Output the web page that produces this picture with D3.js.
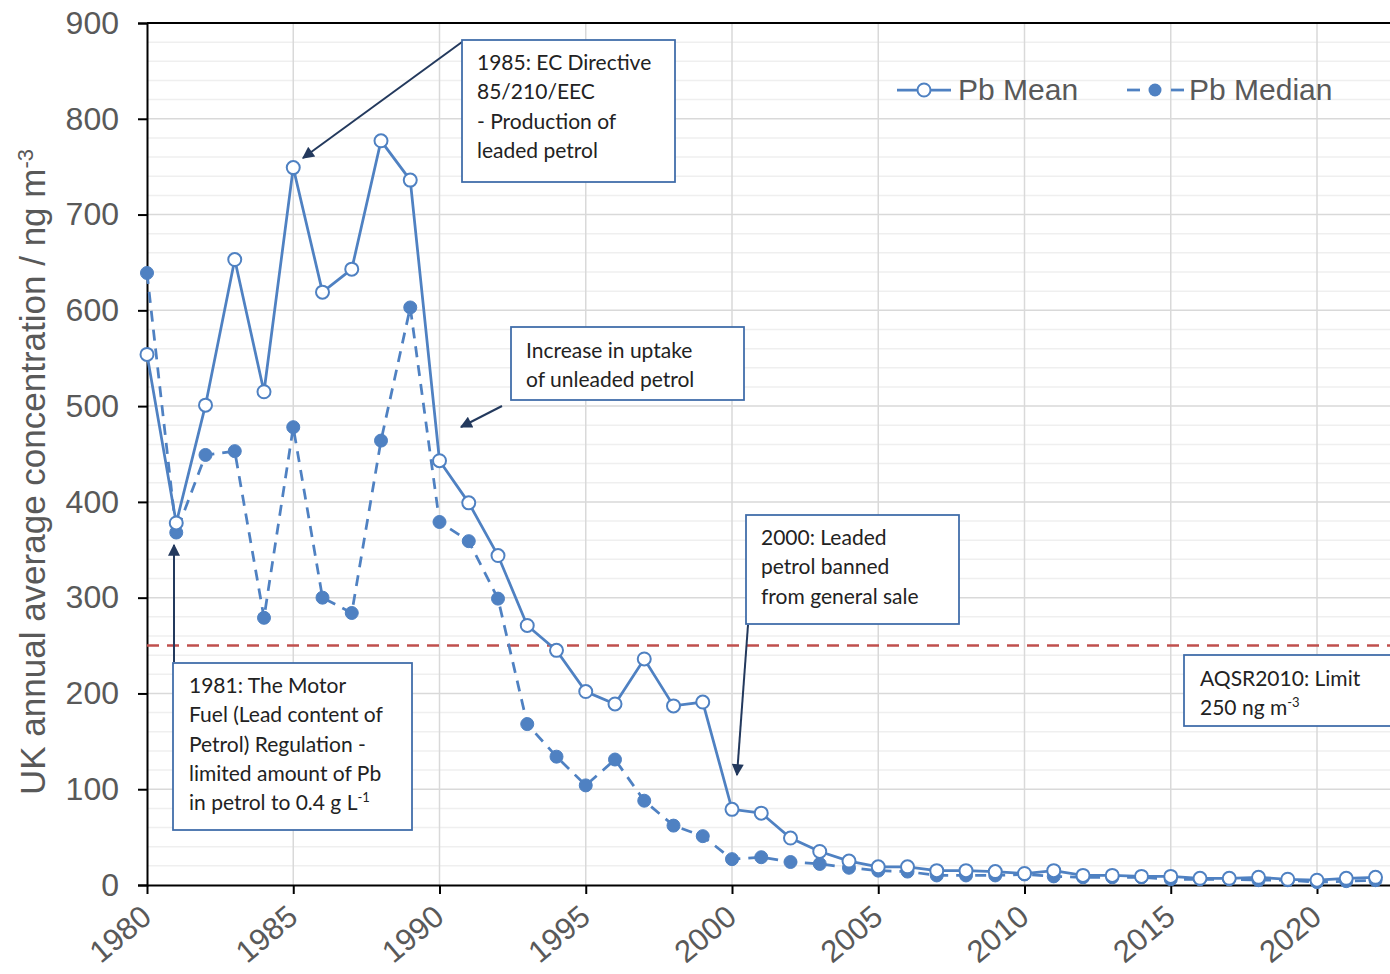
<!DOCTYPE html>
<html>
<head>
<meta charset="utf-8">
<script src="https://cdn.jsdelivr.net/npm/d3@7"></script>
<style>
  body { margin: 0; background: #fff; }
  svg { display: block; }
</style>
</head>
<body>
<div id="chart"></div>
<script>
// --- data ---
const years = d3.range(1980, 2023);
const pbMean = [554, 378, 501, 653, 515, 749, 619, 643, 777, 736,
                443, 399, 344, 271, 245, 202, 189, 236, 187, 191,
                79, 75, 49, 35, 25, 19, 19, 15, 15, 14,
                12, 15, 10, 10, 9, 9, 7, 7, 8, 6,
                5, 7, 8];
const pbMedian = [639, 368, 449, 453, 279, 478, 300, 284, 464, 603,
                  379, 359, 299, 168, 134, 104, 131, 88, 62, 51,
                  27, 29, 24, 22, 18, 15, 14, 10, 10, 10,
                  11, 9, 8, 8, 8, 6, 6, 6, 5, 5,
                  3, 4, 5];
const yTicks = [0, 100, 200, 300, 400, 500, 600, 700, 800, 900];
const xTicks = [1980, 1985, 1990, 1995, 2000, 2005, 2010, 2015, 2020];
const limitValue = 250;

const W = 1390, H = 974;
const blue = "#4f81c2";
const arrowCol = "#23395d";
const boxCol = "#3d6aa8";

const svg = d3.select("#chart").append("svg")
    .attr("width", W).attr("height", H);

const x = d3.scaleLinear().domain([1980, 2023]).range([147, 147 + 29.25 * 43]);
const y = d3.scaleLinear().domain([0, 900]).range([885, 23]);

// gridlines
const grid = svg.append("g");
grid.selectAll("line.minor")
    .data(d3.range(20, 900, 20).filter(v => v % 100 !== 0))
    .enter().append("line")
    .attr("x1", x(1980)).attr("x2", W)
    .attr("y1", d => y(d)).attr("y2", d => y(d))
    .attr("stroke", "#efefef").attr("stroke-width", 1.5);
grid.selectAll("line.major")
    .data(yTicks.filter(v => v > 0 && v < 900))
    .enter().append("line")
    .attr("x1", x(1980)).attr("x2", W)
    .attr("y1", d => y(d)).attr("y2", d => y(d))
    .attr("stroke", "#d9d9d9").attr("stroke-width", 1.5);
grid.selectAll("line.vert")
    .data(xTicks.filter(v => v > 1980))
    .enter().append("line")
    .attr("x1", d => x(d)).attr("x2", d => x(d))
    .attr("y1", y(900)).attr("y2", y(0))
    .attr("stroke", "#d9d9d9").attr("stroke-width", 1.5);

// top border
svg.append("line")
    .attr("x1", x(1980)).attr("x2", W)
    .attr("y1", y(900)).attr("y2", y(900))
    .attr("stroke", "#000").attr("stroke-width", 2);

// axes
const yAxis = svg.append("g")
    .attr("transform", `translate(${x(1980)},0)`)
    .call(d3.axisLeft(y).tickValues(yTicks).tickSize(9).tickPadding(19));
yAxis.select(".domain").attr("stroke", "#000").attr("stroke-width", 2);
yAxis.selectAll(".tick line").attr("stroke", "#000").attr("stroke-width", 2);
yAxis.selectAll(".tick text")
    .attr("font-family", "Liberation Sans, Arial, sans-serif")
    .attr("font-size", 32).attr("fill", "#595959");

const xAxis = svg.append("g")
    .attr("transform", `translate(0,${y(0)})`)
    .call(d3.axisBottom(x).tickValues(xTicks).tickFormat(d3.format("d")).tickSize(9).tickSizeOuter(0));
xAxis.select(".domain").attr("stroke", "#000").attr("stroke-width", 2);
xAxis.selectAll(".tick line").attr("stroke", "#000").attr("stroke-width", 2);
xAxis.selectAll(".tick text")
    .attr("font-family", "Liberation Sans, Arial, sans-serif")
    .attr("font-size", 31).attr("fill", "#595959")
    .attr("text-anchor", "end")
    .attr("dy", null).attr("y", 0)
    .attr("transform", "translate(6,35) rotate(-40)");

// axis title
svg.append("text")
    .attr("transform", `translate(45,${(y(0) + y(900)) / 2 + 18}) rotate(-90)`)
    .attr("text-anchor", "middle")
    .attr("font-family", "Liberation Sans, Arial, sans-serif")
    .attr("font-size", 35).attr("fill", "#595959")
    .text("UK annual average concentration / ng m")
    .append("tspan").attr("baseline-shift", "super").attr("font-size", 22).text("-3");

// limit line
svg.append("line")
    .attr("x1", x(1980)).attr("x2", W)
    .attr("y1", y(limitValue)).attr("y2", y(limitValue))
    .attr("stroke", "#c0504d").attr("stroke-width", 2.5)
    .attr("stroke-dasharray", "12,8");

// series
const meanData = years.map((yr, i) => ({ yr, v: pbMean[i] }));
const medData = years.map((yr, i) => ({ yr, v: pbMedian[i] }));
const line = d3.line().x(d => x(d.yr)).y(d => y(d.v));

svg.append("path").datum(medData)
    .attr("d", line).attr("fill", "none")
    .attr("stroke", blue).attr("stroke-width", 2.75)
    .attr("stroke-dasharray", "11,8");
svg.append("path").datum(meanData)
    .attr("d", line).attr("fill", "none")
    .attr("stroke", blue).attr("stroke-width", 2.75);

svg.append("g").selectAll("circle")
    .data(medData).enter().append("circle")
    .attr("cx", d => x(d.yr)).attr("cy", d => y(d.v))
    .attr("r", 6.5).attr("fill", blue).attr("stroke", blue).attr("stroke-width", 1);
svg.append("g").selectAll("circle")
    .data(meanData).enter().append("circle")
    .attr("cx", d => x(d.yr)).attr("cy", d => y(d.v))
    .attr("r", 6.5).attr("fill", "#fff").attr("stroke", blue).attr("stroke-width", 2);

// legend
const leg = svg.append("g").attr("font-family", "Liberation Sans, Arial, sans-serif")
    .attr("font-size", 30).attr("fill", "#595959");
leg.append("line").attr("x1", 897).attr("x2", 951).attr("y1", 90).attr("y2", 90)
    .attr("stroke", blue).attr("stroke-width", 2.75);
leg.append("circle").attr("cx", 924).attr("cy", 90).attr("r", 6.5)
    .attr("fill", "#fff").attr("stroke", blue).attr("stroke-width", 2);
leg.append("text").attr("x", 958).attr("y", 100).text("Pb Mean");
[[1127, 1140], [1171, 1184]].forEach(s => {
    leg.append("line").attr("x1", s[0]).attr("x2", s[1]).attr("y1", 90).attr("y2", 90)
        .attr("stroke", blue).attr("stroke-width", 2.75);
});
leg.append("circle").attr("cx", 1155).attr("cy", 90).attr("r", 6.5).attr("fill", blue);
leg.append("text").attr("x", 1189).attr("y", 100).text("Pb Median");

// annotations
svg.append("defs").append("marker")
    .attr("id", "arrow").attr("viewBox", "0 0 10 10")
    .attr("refX", 9).attr("refY", 5)
    .attr("markerWidth", 14).attr("markerHeight", 12)
    .attr("markerUnits", "userSpaceOnUse")
    .attr("orient", "auto")
    .append("path").attr("d", "M0,0 L10,5 L0,10 z").attr("fill", arrowCol);

const arrows = [
    [462, 42, 303, 158],
    [502, 406, 461, 427],
    [748, 625, 737, 775],
    [174, 662, 174, 545]
];
svg.append("g").selectAll("line")
    .data(arrows).enter().append("line")
    .attr("x1", d => d[0]).attr("y1", d => d[1])
    .attr("x2", d => d[2]).attr("y2", d => d[3])
    .attr("stroke", arrowCol).attr("stroke-width", 2)
    .attr("marker-end", "url(#arrow)");

const notes = [
    { box: [462, 40, 213, 142], lines: ["1985: EC Directive", "85/210/EEC", "- Production of", "leaded petrol"], tx: 477, ty: 70 },
    { box: [511, 327, 233, 73], lines: ["Increase in uptake", "of unleaded petrol"], tx: 526, ty: 358 },
    { box: [746, 515, 213, 109], lines: ["2000: Leaded", "petrol banned", "from general sale"], tx: 761, ty: 545 },
    { box: [173, 663, 239, 167], lines: ["1981: The Motor", "Fuel (Lead content of", "Petrol) Regulation  -", "limited amount of Pb", "in petrol to 0.4 g L"], sup: "-1", tx: 189, ty: 693 },
    { box: [1184, 655, 220, 71], lines: ["AQSR2010: Limit", "250 ng m"], sup: "-3", tx: 1200, ty: 686 }
];
const ng = svg.append("g");
notes.forEach(n => {
    ng.append("rect")
        .attr("x", n.box[0]).attr("y", n.box[1])
        .attr("width", n.box[2]).attr("height", n.box[3])
        .attr("fill", "#fff").attr("stroke", boxCol).attr("stroke-width", 1.75);
    const t = ng.append("text")
        .attr("font-family", "Lato, Carlito, sans-serif")
        .attr("font-size", 21).attr("fill", "#222");
    n.lines.forEach((l, i) => {
        t.append("tspan").attr("x", n.tx).attr("y", n.ty + i * 29.3).text(l);
        if (n.sup && i === n.lines.length - 1) {
            t.append("tspan").attr("dy", -8).attr("font-size", 13).text(n.sup);
        }
    });
});
</script>
</body>
</html>
